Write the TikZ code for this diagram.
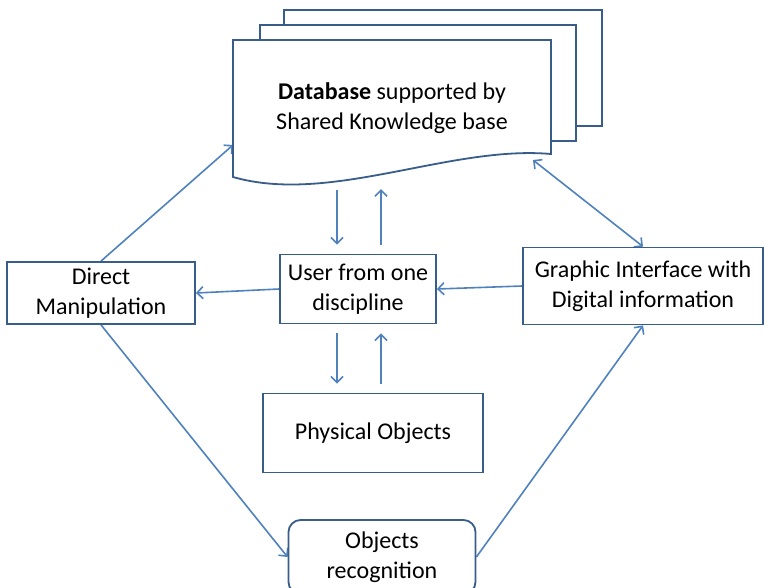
\documentclass[tikz,border=0pt]{standalone}
\usepackage{fontspec}
\setmainfont{Carlito}
\usetikzlibrary{arrows.meta}
\pgfdeclarelayer{bg}
\pgfsetlayers{bg,main}
\definecolor{boxblue}{RGB}{56,93,138}
\definecolor{arrowblue}{RGB}{79,129,189}
\tikzset{
    every node/.style={inner sep=0pt, align=center, font=\fontsize{24}{30}\selectfont}
}
\tikzset{
    box/.style={rectangle, draw=boxblue, line width=1.8pt, fill=white},
    roundbox/.style={box, rounded corners=12pt},
    arr/.style={draw=arrowblue, line width=1.6pt, -{Straight Barb[length=6pt,width=12pt]}},
    twoarr/.style={arr, {Straight Barb[length=6pt,width=12pt]}-{Straight Barb[length=6pt,width=12pt]}}
}

\begin{document}
\begin{tikzpicture}[x=1pt, y=-1pt]
        \useasboundingbox (0,0) rectangle (765,587);
        % stack of pages behind the database
        \draw[box] (284,10) rectangle (602,126);
        \draw[box] (260,25) rectangle (576,141);
        \draw[box] (233,177) -- (233,40) -- (551,40) -- (551,154) .. controls (450,145) and (330,205) .. (233,177) -- cycle;
        \node (db) [minimum width=318pt, minimum height=137pt] at (392,108.5) {\textbf{Database} supported by\\Shared Knowledge base};
        \node (dm) [box, minimum width=188pt, minimum height=62pt] at (101,293) {Direct\\Manipulation};
        \node (user) [box, minimum width=156pt, minimum height=69pt] at (358,289) {User from one\\discipline};
        \node (gi) [box, minimum width=240pt, minimum height=77pt] at (643,286) {Graphic Interface with\\Digital information};
        \node (phys) [box, minimum width=220pt, minimum height=79pt] at (373,433) {Physical Objects};
        \node (rec) [roundbox, minimum width=187pt, minimum height=74pt] at (382,557) {Objects\\recognition};
        \coordinate (dbl) at (233,145);
        \coordinate (dbr) at (533,160);
        \coordinate (c1) at (337,0);
        \coordinate (c2) at (381,0);
        \begin{pgfonlayer}{bg}
                \draw (dm.north) edge [arr] (dbl);
                \draw (db.south -| c1) edge [arr, shorten <=13pt, shorten >=9pt] (user.north -| c1);
                \draw (user.north -| c2) edge [arr, shorten <=9pt, shorten >=12pt] (db.south -| c2);
                \draw (user.south -| c1) edge [arr, shorten <=9pt, shorten >=9pt] (phys.north -| c1);
                \draw (phys.north -| c2) edge [arr, shorten <=9pt, shorten >=9pt] (user.south -| c2);
                \draw (user.west) edge [arr] (dm.east);
                \draw (gi.west) edge [arr] (user.east);
                \draw (dbr) edge [twoarr] (gi.north);
                \draw (dm.south) edge [arr] (rec.west);
                \draw (rec.east) edge [arr] (gi.south);
        \end{pgfonlayer}
\end{tikzpicture}
\end{document}
